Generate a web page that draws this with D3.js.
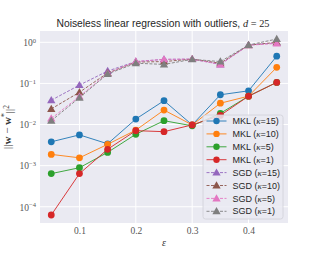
<!DOCTYPE html>
<html><head><meta charset="utf-8">
<script src="https://cdn.jsdelivr.net/npm/d3@7"></script>
<style>body{margin:0;background:#fff}svg{display:block}</style>
</head><body>
<script>
const eps = [0.05,0.1,0.15,0.2,0.25,0.3,0.35,0.4,0.45];
const mkl15 = [0.0038,0.0056,0.0034,0.0136,0.038,0.0098,0.053,0.066,0.46];
const mkl10 = [0.00188,0.00155,0.0033,0.0073,0.0225,0.0098,0.033,0.049,0.246];
const mkl5  = [0.00064,0.00089,0.0021,0.0058,0.0124,0.0093,0.0187,0.049,0.106];
const mkl1  = [0.000063,0.00064,0.0025,0.0071,0.0067,0.0098,0.0167,0.049,0.106];
const sgd15 = [0.039,0.091,0.20,0.34,0.385,0.39,0.29,0.86,0.97];
const sgd10 = [0.024,0.061,0.18,0.33,0.34,0.39,0.31,0.85,1.0];
const sgd5  = [0.014,0.048,0.175,0.34,0.385,0.39,0.29,0.85,0.94];
const sgd1  = [0.0124,0.045,0.17,0.31,0.29,0.385,0.34,0.86,1.2];
const yTicks = [1e-4,1e-3,1e-2,1e-1,1];
const yTickExp = ["−4","−3","−2","−1","0"];
const xTicks = [0.1,0.2,0.3,0.4];

const series = [
  {name:"MKL", k:"15", vals:mkl15, color:"#1f77b4", type:"mkl"},
  {name:"MKL", k:"10", vals:mkl10, color:"#ff7f0e", type:"mkl"},
  {name:"MKL", k:"5", vals:mkl5, color:"#2ca02c", type:"mkl"},
  {name:"MKL", k:"1", vals:mkl1, color:"#d62728", type:"mkl"},
  {name:"SGD", k:"15", vals:sgd15, color:"#9467bd", type:"sgd"},
  {name:"SGD", k:"10", vals:sgd10, color:"#8c564b", type:"sgd"},
  {name:"SGD", k:"5", vals:sgd5, color:"#e377c2", type:"sgd"},
  {name:"SGD", k:"1", vals:sgd1, color:"#7f7f7f", type:"sgd"}
];

const W=320,H=256;
const L=40,R=288,T=31,B=223;
const serif = "'Liberation Serif', 'DejaVu Serif', serif";
const sans = "'Liberation Sans', Arial, sans-serif";
const svg = d3.select("body").append("svg").attr("width",W).attr("height",H);
svg.append("rect").attr("width",W).attr("height",H).attr("fill","#fff");

const x = d3.scaleLinear().domain([0.03,0.47]).range([L,R]);
const y = d3.scaleLog().domain([Math.pow(10,-4.395),Math.pow(10,0.275)]).range([B,T]);

svg.append("rect").attr("x",L).attr("y",T).attr("width",R-L).attr("height",B-T).attr("fill","#EAEAF2");

const g = svg.append("g");
g.selectAll(".gx").data(xTicks).join("line")
  .attr("x1",d=>x(d)).attr("x2",d=>x(d)).attr("y1",T).attr("y2",B)
  .attr("stroke","#fff").attr("stroke-width",1);
g.selectAll(".gy").data(yTicks).join("line")
  .attr("y1",d=>y(d)).attr("y2",d=>y(d)).attr("x1",L).attr("x2",R)
  .attr("stroke","#fff").attr("stroke-width",1);

const xAxis = d3.axisBottom(x).tickValues(xTicks).tickSize(0).tickPadding(4).tickFormat(d3.format(".1f"));
const xa = svg.append("g").attr("transform",`translate(0,${B})`).call(xAxis);
xa.select(".domain").remove();
xa.selectAll("text").attr("font-family",serif).attr("font-size",9.5).attr("fill","#555");

const yAxis = d3.axisLeft(y).tickValues(yTicks).tickSize(0).tickPadding(4).tickFormat(()=>"");
const ya = svg.append("g").attr("transform",`translate(${L},0)`).call(yAxis);
ya.select(".domain").remove();
ya.selectAll(".tick text").each(function(d,i){
  const t = d3.select(this).text(null).attr("font-family",serif).attr("fill","#555").attr("font-size",9.5).attr("dy","0.35em");
  t.append("tspan").text("10");
  t.append("tspan").attr("font-size",6.5).attr("dy","-0.55em").text(yTickExp[i]);
});

const line = d3.line().x((d,i)=>x(eps[i])).y(d=>y(d));
const tri = d3.symbol().type(d3.symbolTriangle).size(30);
series.forEach(s=>{
  const gg = svg.append("g");
  gg.append("path").attr("d",line(s.vals)).attr("fill","none").attr("stroke",s.color)
    .attr("stroke-width",0.9)
    .attr("stroke-dasharray",s.type==="sgd"?"3,1.5":null);
  if(s.type==="mkl"){
    gg.selectAll("circle").data(s.vals).join("circle")
      .attr("cx",(d,i)=>x(eps[i])).attr("cy",d=>y(d)).attr("r",3.4).attr("fill",s.color);
  } else {
    gg.selectAll("path.m").data(s.vals).join("path").attr("class","m")
      .attr("d",tri).attr("transform",(d,i)=>`translate(${x(eps[i])},${y(d)+0.6})`).attr("fill",s.color);
  }
});

const title = svg.append("text").attr("x",163).attr("y",27).attr("text-anchor","middle")
  .attr("font-family",sans).attr("font-size",10.3).attr("fill","#262626");
title.append("tspan").text("Noiseless linear regression with outliers, ");
title.append("tspan").attr("font-family",serif).attr("font-style","italic").text("d");
title.append("tspan").attr("font-family",serif).text(" = 25");

svg.append("text").attr("x",x(0.25)).attr("y",246).attr("text-anchor","middle")
  .attr("font-family",serif).attr("font-style","italic").attr("font-size",10).attr("fill","#333").text("ε");

const yl = svg.append("text").attr("transform",`translate(11,${(T+B)/2}) rotate(-90)`).attr("text-anchor","middle")
  .attr("font-family",serif).attr("font-size",11).attr("fill","#333");
yl.append("tspan").text("||");
yl.append("tspan").attr("font-weight","bold").text("w");
yl.append("tspan").text(" − ");
yl.append("tspan").attr("font-weight","bold").text("w");
yl.append("tspan").attr("font-size",7.5).attr("dy","-0.5em").text("*");
yl.append("tspan").attr("dy","0.5em").text("||");
yl.append("tspan").attr("font-size",7.5).attr("dy","-0.5em").text("2");

const lg = svg.append("g");
lg.append("rect").attr("x",203).attr("y",115).attr("width",80).attr("height",104).attr("rx",2.5)
  .attr("fill","#EAEAF2").attr("fill-opacity",0.85).attr("stroke","#d0d0d8").attr("stroke-width",0.8);
series.forEach((s,i)=>{
  const yy = 121 + i*12.9;
  lg.append("line").attr("x1",206.5).attr("x2",226.5).attr("y1",yy).attr("y2",yy)
    .attr("stroke",s.color).attr("stroke-width",0.9).attr("stroke-dasharray",s.type==="sgd"?"3,1.5":null);
  if(s.type==="mkl") lg.append("circle").attr("cx",216.5).attr("cy",yy).attr("r",3.2).attr("fill",s.color);
  else lg.append("path").attr("d",tri).attr("transform",`translate(216.5,${yy+0.6})`).attr("fill",s.color);
  const t = lg.append("text").attr("x",232.5).attr("y",yy).attr("dy","0.35em")
    .attr("font-family",sans).attr("font-size",9).attr("fill","#262626");
  t.append("tspan").text(s.name+" (");
  t.append("tspan").attr("font-family",serif).attr("font-style","italic").text("κ");
  t.append("tspan").text("="+s.k+")");
});
</script>
</body></html>
